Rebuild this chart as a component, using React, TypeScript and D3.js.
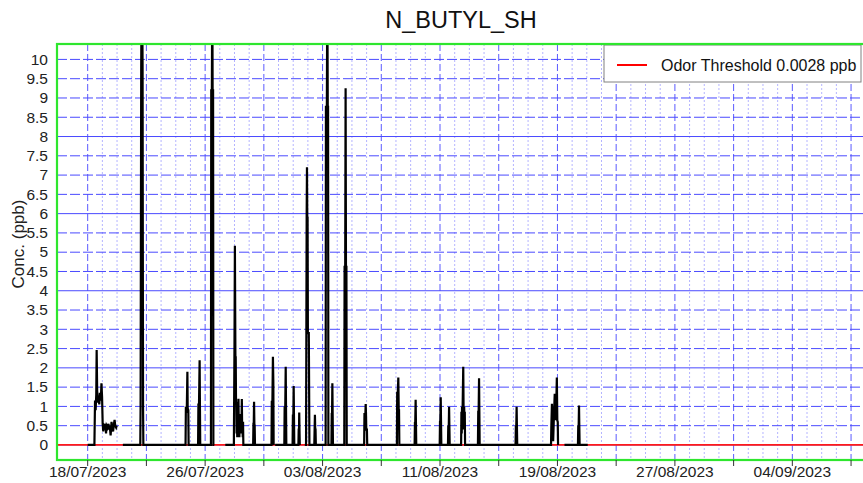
import React from 'react';
import * as d3 from 'd3';

const chartTitle = 'N_BUTYL_SH';
const yAxisTitle = 'Conc. (ppb)';
const legendLabel = 'Odor Threshold 0.0028 ppb';
const odorThreshold = 0.0028;

const xDomain = ['2023-07-15 21:50', '2023-09-08 21:10'];
const yDomain = [-0.39, 10.4];
const gridStartDay = '2023-07-18 00:00';

const yTickValues = [0, 0.5, 1, 1.5, 2, 2.5, 3, 3.5, 4, 4.5, 5, 5.5, 6, 6.5, 7, 7.5, 8, 8.5, 9, 9.5, 10];
const xTickDates = ['2023-07-18', '2023-07-22', '2023-07-26', '2023-07-30', '2023-08-03', '2023-08-07', '2023-08-11',
  '2023-08-15', '2023-08-19', '2023-08-23', '2023-08-27', '2023-08-31', '2023-09-04', '2023-09-08'];
const xLabelDates = ['2023-07-18', '2023-07-26', '2023-08-03', '2023-08-11', '2023-08-19', '2023-08-27', '2023-09-04'];

// [time (2023-MM-DD HH:MM), concentration ppb]; null = no data
const julySamples: [string, number | null][] = [
  ['07-18 00:00', 0], ['07-18 11:00', 0], ['07-18 12:00', 1.15], ['07-18 13:00', 0.9], ['07-18 14:00', 1.3],
  ['07-18 14:40', 2.46], ['07-18 15:30', 1.4], ['07-18 17:00', 1.1], ['07-18 18:00', 1.2], ['07-18 19:00', 1.05],
  ['07-18 20:00', 1.35], ['07-18 21:30', 1.15], ['07-18 22:30', 1.6], ['07-18 23:30', 1.25], ['07-19 00:30', 0.55],
  ['07-19 01:30', 0.35], ['07-19 02:30', 0.5], ['07-19 04:00', 0.45], ['07-19 05:00', 0.55], ['07-19 06:00', 0.3],
  ['07-19 07:00', 0.5], ['07-19 08:30', 0.45], ['07-19 10:00', 0.55], ['07-19 11:00', 0.4], ['07-19 12:00', 0.5],
  ['07-19 13:30', 0.25], ['07-19 15:00', 0.6], ['07-19 16:00', 0.45], ['07-19 17:30', 0.35], ['07-19 19:00', 0.55],
  ['07-19 20:00', 0.65], ['07-19 21:00', 0.5], ['07-19 22:30', 0.45], ['07-19 23:30', 0.5], ['07-20 00:00', null],
  ['07-20 09:30', 0],
  ['07-21 14:00', 0], ['07-21 14:30', 1.0], ['07-21 15:30', 9.8], ['07-21 16:15', 12], ['07-21 17:00', 12],
  ['07-21 17:45', 9.8], ['07-21 18:30', 1.0], ['07-21 19:00', 0],
  ['07-24 16:00', 0], ['07-24 16:30', 0.93], ['07-24 18:00', 0.9], ['07-24 19:00', 1.9], ['07-24 19:30', 0.95],
  ['07-24 20:30', 0.9], ['07-24 21:00', 0],
  ['07-25 12:30', 0], ['07-25 13:00', 1.05], ['07-25 14:00', 1.05], ['07-25 15:00', 2.2], ['07-25 15:30', 1.05], ['07-25 16:00', 0],
  ['07-26 09:30', 0], ['07-26 10:00', 9.2], ['07-26 11:00', 9.2], ['07-26 11:45', 12], ['07-26 12:15', 9.2],
  ['07-26 13:00', 9.2], ['07-26 13:30', 0], ['07-26 15:00', 0], ['07-26 16:00', null],
  ['07-27 09:00', 0],
  ['07-27 23:00', 0], ['07-28 00:00', 2.6], ['07-28 00:40', 5.17], ['07-28 01:30', 2.25], ['07-28 02:00', 2.3],
  ['07-28 02:30', 1.12], ['07-28 03:00', 1.1], ['07-28 03:30', 0.3], ['07-28 04:00', 0.8], ['07-28 04:30', 0.2],
  ['07-28 05:00', 0.75], ['07-28 05:30', 0.4], ['07-28 06:00', 0.9], ['07-28 06:30', 1.2], ['07-28 07:00', 0.5],
  ['07-28 07:30', 0.7], ['07-28 08:00', 0.2], ['07-28 08:30', 0.75], ['07-28 09:00', 0.3], ['07-28 09:30', 0.6],
  ['07-28 10:00', 0.8], ['07-28 10:30', 0.3], ['07-28 11:00', 0.7], ['07-28 11:30', 0.5], ['07-28 12:00', 1.19],
  ['07-28 12:30', 0.5], ['07-28 13:00', 0.6], ['07-28 13:30', 0.2], ['07-28 14:00', 0.6], ['07-28 14:30', 0],
  ['07-29 06:30', 0], ['07-29 07:00', 0.55], ['07-29 07:30', 0.55], ['07-29 08:00', 1.12], ['07-29 08:30', 0.55],
  ['07-29 09:00', 0.5], ['07-29 09:30', 0],
  ['07-30 12:30', 0], ['07-30 13:00', 1.12], ['07-30 14:00', 1.12], ['07-30 14:50', 2.29], ['07-30 15:30', 1.64],
  ['07-30 16:00', 0], ['07-30 16:30', null],
  ['07-30 18:30', 0],
  ['07-31 09:30', 0], ['07-31 10:00', 0.97], ['07-31 11:00', 0.97], ['07-31 11:45', 2.03], ['07-31 12:15', 0.97], ['07-31 12:45', 0],
  ['07-31 23:00', 0], ['07-31 23:30', 0.76],
];

const augustSamples: [string, number | null][] = [
  ['08-01 00:15', 0.76], ['08-01 00:45', 1.53], ['08-01 01:15', 0.76], ['08-01 01:45', 0],
  ['08-01 08:30', 0], ['08-01 09:00', 0.4], ['08-01 09:30', 0.4], ['08-01 09:50', 0.84], ['08-01 10:15', 0.4],
  ['08-01 10:45', 0], ['08-01 12:00', null],
  ['08-01 19:00', 0],
  ['08-01 21:00', 0], ['08-01 21:30', 2.9], ['08-01 22:00', 5.92], ['08-01 22:30', 7.2], ['08-01 23:00', 5.92],
  ['08-01 23:30', 5.9], ['08-02 00:00', 2.9], ['08-02 01:30', 2.9], ['08-02 02:00', 1.5], ['08-02 02:30', 0],
  ['08-02 10:30', 0], ['08-02 11:00', 0.4], ['08-02 11:30', 0.78], ['08-02 12:00', 0.4],
  ['08-02 12:30', 0.4], ['08-02 13:00', 0],
  ['08-03 05:00', 0], ['08-03 05:30', 8.77], ['08-03 07:00', 8.77], ['08-03 07:45', 12], ['08-03 08:30', 8.77],
  ['08-03 09:00', 8.77], ['08-03 09:30', 0],
  ['08-03 14:30', 0], ['08-03 15:00', 0.8], ['08-03 15:30', 0.8], ['08-03 16:00', 1.6], ['08-03 16:30', 0.8], ['08-03 17:00', 0],
  ['08-04 11:30', 0], ['08-04 12:00', 4.62], ['08-04 13:00', 4.62], ['08-04 13:40', 9.25], ['08-04 14:15', 4.62],
  ['08-04 15:00', 4.62], ['08-04 15:30', 0],
  ['08-05 20:00', 0], ['08-05 20:30', 0.8], ['08-05 22:00', 0.8], ['08-05 22:30', 1.06], ['08-05 23:00', 0.8],
  ['08-05 23:30', 0.4], ['08-06 00:30', 0.4], ['08-06 01:00', 0],
  ['08-08 01:30', 0], ['08-08 02:00', 1.35], ['08-08 03:00', 1.35], ['08-08 03:50', 1.75], ['08-08 04:30', 0.9],
  ['08-08 05:00', 0.9], ['08-08 05:30', 0],
  ['08-09 06:30', 0], ['08-09 07:00', 0.57], ['08-09 07:30', 0.57], ['08-09 08:10', 1.17], ['08-09 08:40', 0.57], ['08-09 09:10', 0],
  ['08-10 23:30', 0], ['08-11 00:00', 0.6], ['08-11 00:30', 0.6], ['08-11 01:10', 1.24], ['08-11 01:40', 0.6], ['08-11 02:10', 0],
  ['08-11 13:00', 0], ['08-11 13:30', 0.47], ['08-11 14:20', 0.47], ['08-11 14:50', 0.99], ['08-11 15:20', 0.47], ['08-11 15:50', 0],
  ['08-12 10:30', 0], ['08-12 11:00', 0.86], ['08-12 11:30', 0.3], ['08-12 12:00', 0.99], ['08-12 12:30', 0.5],
  ['08-12 13:00', 1.0], ['08-12 14:00', 2.03], ['08-12 14:30', 0.99], ['08-12 15:00', 0.4], ['08-12 15:30', 0.99],
  ['08-12 16:00', 0.6], ['08-12 16:30', 0.86], ['08-12 17:00', 0],
  ['08-13 14:00', 0], ['08-13 14:30', 0.86], ['08-13 15:10', 0.86], ['08-13 15:50', 1.73], ['08-13 16:20', 0.86], ['08-13 16:50', 0],
  ['08-16 03:30', 0], ['08-16 04:00', 0.47], ['08-16 04:40', 0.47], ['08-16 05:15', 0.99], ['08-16 05:45', 0.47], ['08-16 06:15', 0],
  ['08-18 13:30', 0], ['08-18 14:00', 0.47], ['08-18 15:00', 1.07], ['08-18 16:00', 0.47], ['08-18 17:00', 0.1],
  ['08-18 18:00', 0.64], ['08-18 19:30', 1.3], ['08-18 20:30', 1.3], ['08-18 21:30', 0.64], ['08-18 23:00', 1.75],
  ['08-18 23:45', 0.64], ['08-19 00:30', 0.6], ['08-19 01:00', 0], ['08-19 09:00', null],
  ['08-19 11:30', 0],
  ['08-20 09:30', 0], ['08-20 10:00', 0.47], ['08-20 10:40', 0.47], ['08-20 11:15', 1.02], ['08-20 11:45', 0.47], ['08-20 12:15', 0],
  ['08-21 01:30', 0],
];

const FONT = "'Liberation Sans', Arial, sans-serif";

export default function App() {
  const W = 863, H = 483;
  const left = 57, right = 864, top = 44, bottom = 460;
  const parse = d3.timeParse('%Y-%m-%d %H:%M');
  const parseDay = d3.timeParse('%Y-%m-%d');
  const fmtDay = d3.timeFormat('%d/%m/%Y');
  const x = d3.scaleTime().domain(xDomain.map((s) => parse(s) as Date)).range([left, right]);
  const y = d3.scaleLinear().domain(yDomain).range([bottom, top]);

  const data = [...julySamples, ...augustSamples].map(([t, v]) => ({ t: parse('2023-' + t) as Date, v }));
  const line = d3.line<{ t: Date; v: number | null }>()
    .defined((d) => d.v != null)
    .x((d) => x(d.t))
    .y((d) => y(d.v as number));

  const tickDates = xTickDates.map((s) => parseDay(s) as Date);
  const tickSet = new Set(tickDates.map((d) => d.getTime()));
  const dayLines = d3.timeDay.range(parse(gridStartDay) as Date, x.domain()[1]);

  return (
    <svg width={W} height={H} style={{ position: 'absolute', left: 0, top: 0, background: '#fff' }} fontFamily={FONT}>
      <defs>
        <clipPath id="plotClip">
          <rect x={left} y={top} width={right - left} height={bottom - top} />
        </clipPath>
      </defs>
      <rect x={0} y={0} width={W} height={H} fill="#fff" />
      <text x={461} y={28} textAnchor="middle" fontSize={23.5} fill="#111">{chartTitle}</text>

      {/* grid */}
      <g clipPath="url(#plotClip)">
        {dayLines.map((d, i) => {
          const major = tickSet.has(d.getTime());
          return (
            <line key={'v' + i} x1={x(d)} x2={x(d)} y1={top} y2={bottom}
              stroke={major ? '#5a5aff' : '#b4b4ff'} strokeWidth={1}
              strokeDasharray={major ? '7,3' : '2,2'} />
          );
        })}
        {yTickValues.map((v, i) => (
          <line key={'h' + i} x1={left} x2={right} y1={y(v)} y2={y(v)}
            stroke="#4a4aff" strokeWidth={1}
            strokeDasharray={v % 2 === 0 && v !== 10 ? undefined : '10,3'} />
        ))}
        <line x1={left} x2={right} y1={y(odorThreshold)} y2={y(odorThreshold)} stroke="#ff1a1a" strokeWidth={1.8} />
        <path d={line(data) || ''} fill="none" stroke="#000" strokeWidth={2.2} strokeLinejoin="miter" />
      </g>

      {/* legend */}
      <rect x={604} y={45} width={257} height={37} fill="#fff" stroke="#808080" strokeWidth={1} />
      <line x1={617} x2={647} y1={65} y2={65} stroke="#ff0000" strokeWidth={2} />
      <text x={661} y={70.5} fontSize={16} fill="#111">{legendLabel}</text>

      {/* frame */}
      <rect x={left} y={top} width={right - left + 4} height={bottom - top} fill="none" stroke="#2ee62e" strokeWidth={2.2} />

      {/* y ticks */}
      {yTickValues.map((v, i) => (
        <text key={'yl' + i} x={48} y={y(v) + 5.3} textAnchor="end" fontSize={15.5} fill="#222">{d3.format('~g')(v)}</text>
      ))}
      <text transform={`translate(24,244) rotate(-90)`} textAnchor="middle" fontSize={17} fill="#222">{yAxisTitle}</text>

      {/* x ticks */}
      {tickDates.map((d, i) => (
        <line key={'xt' + i} x1={x(d)} x2={x(d)} y1={bottom} y2={bottom + 6} stroke="#333" strokeWidth={1} />
      ))}
      {xLabelDates.map((s, i) => {
        const d = parseDay(s) as Date;
        return (
          <text key={'xl' + i} x={x(d)} y={477} textAnchor="middle" fontSize={15.5} fill="#222">{fmtDay(d)}</text>
        );
      })}
    </svg>
  );
}
